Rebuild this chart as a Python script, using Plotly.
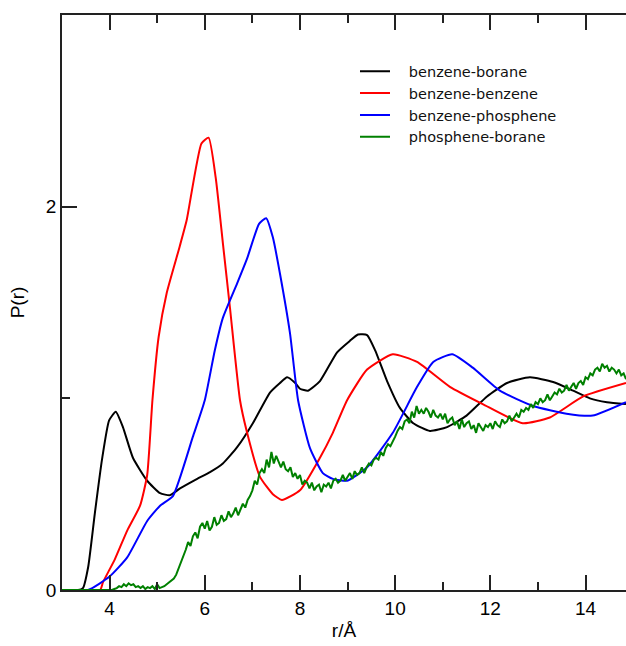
import plotly.graph_objects as go

# benzene-borane
bb_r = [3.0, 3.34, 3.44, 3.55, 3.69, 3.84, 3.99, 4.13, 4.28, 4.49, 4.79, 5.06, 5.27, 5.48, 5.84, 6.11,
        6.38, 6.68, 7.01, 7.37, 7.58, 7.73, 7.9, 8.0, 8.17, 8.42, 8.78, 9.05, 9.22, 9.41, 9.58, 9.83,
        10.1, 10.38, 10.73, 11.09, 11.5, 11.93, 12.35, 12.83, 13.32, 13.74, 14.09, 14.45, 14.85]
bb_p = [0.0, 0.0, 0.01, 0.12, 0.40, 0.68, 0.885, 0.93, 0.85, 0.69, 0.57, 0.505, 0.495, 0.53, 0.58, 0.615,
        0.66, 0.745, 0.87, 1.03, 1.08, 1.11, 1.08, 1.05, 1.04, 1.09, 1.24, 1.30, 1.333, 1.33, 1.25, 1.09,
        0.95, 0.87, 0.83, 0.85, 0.91, 1.01, 1.08, 1.11, 1.085, 1.04, 1.0, 0.98, 0.97]

# benzene-benzene
bz_r = [3.0, 3.8, 3.86, 4.11, 4.37, 4.64, 4.79, 4.90, 5.03, 5.2, 5.47, 5.62, 5.93, 6.08, 6.23, 6.38,
        6.53, 6.74, 6.88, 7.16, 7.43, 7.62, 8.0, 8.42, 8.69, 8.99, 9.41, 9.95, 10.46, 11.15, 11.84,
        12.68, 13.25, 13.95, 14.85]
bz_p = [0.0, 0.0, 0.04, 0.16, 0.31, 0.44, 0.60, 0.99, 1.32, 1.55, 1.79, 1.93, 2.33, 2.36, 2.15, 1.81,
        1.47, 0.99, 0.83, 0.59, 0.50, 0.47, 0.52, 0.69, 0.82, 0.99, 1.15, 1.23, 1.19, 1.06, 0.97,
        0.87, 0.90, 1.01, 1.08]

# benzene-phosphene
bp_r = [3.0, 3.55, 4.0, 4.37, 4.79, 5.06, 5.33, 5.75, 6.0, 6.21, 6.38, 6.68, 6.89, 7.14, 7.29, 7.43,
        7.58, 7.79, 7.96, 8.21, 8.48, 8.69, 8.99, 9.41, 9.95, 10.46, 10.8, 11.2, 11.63, 12.2, 12.9,
        13.6, 14.15, 14.85]
bp_p = [0.0, 0.0, 0.07, 0.17, 0.36, 0.44, 0.49, 0.80, 0.99, 1.25, 1.42, 1.60, 1.73, 1.91, 1.94, 1.84,
        1.65, 1.34, 0.99, 0.74, 0.61, 0.58, 0.57, 0.64, 0.82, 1.06, 1.19, 1.23, 1.16, 1.04, 0.96,
        0.92, 0.91, 0.98]

# phosphene-borane, sampled every 0.05 from r = 3.00
pb_p = [
    0, 0, 0, 0, 0, 0, 0, 0, 0, 0, 0, 0, 0, 0, 0, 0, 0, 0, 0, 0,
    0, 0, 0.005, 0.01, 0.02, 0.015, 0.03, 0.02, 0.035, 0.025, 0.03, 0.015, 0.02, 0.01, 0.02, 0.005, 0.015, 0.01, 0.02, 0.005,
    0.03, 0.01, 0.015, 0.02, 0.03, 0.04, 0.05, 0.06, 0.08, 0.11, 0.14, 0.18, 0.21, 0.25, 0.23, 0.28, 0.30, 0.27, 0.33, 0.35,
    0.32, 0.36, 0.31, 0.33, 0.38, 0.34, 0.35, 0.39, 0.36, 0.37, 0.41, 0.38, 0.40, 0.43, 0.39, 0.42, 0.45, 0.43, 0.47, 0.49,
    0.52, 0.57, 0.55, 0.61, 0.63, 0.61, 0.68, 0.64, 0.72, 0.66, 0.70, 0.67, 0.64, 0.67, 0.63, 0.62, 0.64, 0.59, 0.61, 0.58,
    0.60, 0.55, 0.57, 0.56, 0.53, 0.56, 0.52, 0.54, 0.55, 0.51, 0.55, 0.54, 0.56, 0.53, 0.57, 0.58, 0.56, 0.57, 0.60, 0.57,
    0.59, 0.61, 0.58, 0.62, 0.60, 0.61, 0.64, 0.61, 0.64, 0.66, 0.65, 0.68, 0.69, 0.68, 0.72, 0.70, 0.74, 0.76, 0.75, 0.78,
    0.80, 0.83, 0.85, 0.84, 0.88, 0.89, 0.87, 0.93, 0.90, 0.96, 0.92, 0.94, 0.92, 0.95, 0.93, 0.90, 0.94, 0.91, 0.90, 0.92,
    0.89, 0.92, 0.87, 0.89, 0.90, 0.86, 0.88, 0.84, 0.89, 0.85, 0.87, 0.88, 0.84, 0.86, 0.82, 0.87, 0.85, 0.83, 0.86, 0.85,
    0.87, 0.84, 0.88, 0.86, 0.85, 0.89, 0.87, 0.88, 0.91, 0.88, 0.90, 0.92, 0.90, 0.94, 0.93, 0.95, 0.94, 0.97, 0.95, 0.98,
    0.97, 1.00, 0.98, 0.99, 1.02, 0.99, 1.01, 1.03, 1.02, 1.05, 1.03, 1.04, 1.07, 1.04, 1.06, 1.08, 1.05, 1.08, 1.09, 1.07,
    1.11, 1.10, 1.13, 1.12, 1.15, 1.16, 1.14, 1.18, 1.16, 1.17, 1.14, 1.16, 1.15, 1.13, 1.15, 1.12, 1.13, 1.10,
]
pb_r = [round(3.0 + 0.05 * i, 2) for i in range(len(pb_p))]

names = ["benzene-borane", "benzene-benzene", "benzene-phosphene", "phosphene-borane"]
colors = ["#000000", "#ff0000", "#0000ff", "#008000"]
series = [(bb_r, bb_p), (bz_r, bz_p), (bp_r, bp_p), (pb_r, pb_p)]
smooth = [True, True, True, False]

fig = go.Figure()
for (r, p), n, c, s in zip(series, names, colors, smooth):
    line = dict(color=c, width=2)
    if s:
        line.update(shape="spline", smoothing=0.5)
    fig.add_trace(go.Scatter(x=r, y=p, mode="lines", name="\u00a0\u00a0\u00a0" + n, line=line))

font = "Liberation Sans, Arial, sans-serif"
fig.update_layout(
    width=626, height=646,
    margin=dict(l=62, r=0, t=15, b=56),
    paper_bgcolor="white", plot_bgcolor="white",
    font=dict(family=font, size=19, color="black"),
    showlegend=True,
    legend=dict(x=0.5195, y=0.93, xanchor="left", yanchor="top",
                font=dict(family="DejaVu Sans, sans-serif", size=14.5, color="#111"),
                bgcolor="rgba(0,0,0,0)", tracegroupgap=0),
    xaxis=dict(range=[3, 14.85], tick0=0, dtick=2, ticks="inside", ticklen=15,
               tickwidth=1.5, tickcolor="#222", showline=True, linecolor="#222",
               linewidth=1.5, mirror="ticks", showgrid=False, zeroline=False,
               minor=dict(dtick=1, ticks="inside", ticklen=8, tickwidth=1.5, tickcolor="#222"),
               title=dict(text="r/Å", font=dict(size=19), standoff=6),
               tickfont=dict(size=19)),
    yaxis=dict(range=[0, 3], tick0=0, dtick=2, ticks="inside", ticklen=15,
               tickwidth=1.5, tickcolor="#222", showline=True, linecolor="#222",
               linewidth=1.5, mirror=False, showgrid=False, zeroline=False,
               minor=dict(dtick=1, ticks="inside", ticklen=8, tickwidth=1.5, tickcolor="#222"),
               title=dict(text="P(r)", font=dict(size=19), standoff=16),
               tickfont=dict(size=19)),
)

fig.write_html("out.html")
